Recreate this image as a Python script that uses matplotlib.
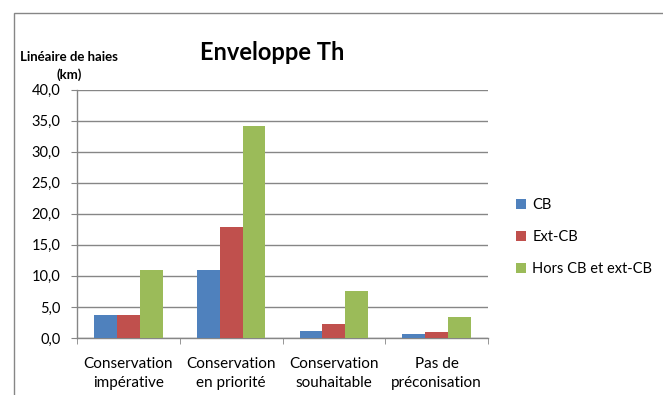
import numpy as np
import matplotlib
matplotlib.use("Agg")
import matplotlib.pyplot as plt
from matplotlib.patches import Rectangle

plt.rcParams['font.family'] = ['Lato', 'DejaVu Sans']

# data
categories = ["Conservation\nimpérative", "Conservation\nen priorité",
              "Conservation\nsouhaitable", "Pas de\npréconisation"]
series = ["CB", "Ext-CB", "Hors CB et ext-CB"]
cb = [3.7, 11.0, 1.1, 0.7]
ext_cb = [3.7, 17.8, 2.2, 0.9]
hors = [11.0, 34.1, 7.6, 3.3]
colors = ["#4F81BD", "#C0504D", "#9BBB59"]

fig = plt.figure(figsize=(6.63, 3.95), dpi=100)
fig.patches.append(Rectangle((14/663, -0.1), 1.2, 1 - 13/395 + 0.1,
                             transform=fig.transFigure, fill=False,
                             edgecolor="#868686", linewidth=1.0))

ax = fig.add_axes([77/663, 1 - 338/395, 411/663, 248.5/395])
x = np.arange(len(categories))
w = 1 / 4.5
for i, (vals, name) in enumerate(zip([cb, ext_cb, hors], series)):
    ax.bar(x + (i - 1) * w, vals, width=w, color=colors[i], label=name,
           zorder=3)

ax.set_xlim(-0.5, len(categories) - 0.5)
ax.set_ylim(0, 40)
ax.set_yticks(np.arange(0, 41, 5))
ax.set_yticklabels([f"{v:.1f}".replace(".", ",") for v in np.arange(0, 41, 5)],
                   fontsize=10.5)
ax.set_xticks(x)
ax.set_xticklabels(categories, fontsize=11, linespacing=1.45)
ax.set_xticks(np.arange(-0.5, len(categories)), minor=True)
ax.tick_params(axis='x', which='major', length=0, pad=14)
ax.tick_params(axis='x', which='minor', length=4, color="#868686")
ax.tick_params(axis='y', length=4, color="#868686", pad=8)
ax.grid(axis='y', color="#868686", linewidth=1.0, zorder=0)
for s in ["top", "right"]:
    ax.spines[s].set_visible(False)
for s in ["left", "bottom"]:
    ax.spines[s].set_color("#868686")
    ax.spines[s].set_linewidth(1.0)

fig.text(272/663, 1 - 52/395, "Enveloppe Th", fontsize=17, fontweight='bold',
         ha='center', va='center')
fig.text(69/663, 1 - 66/395, "Linéaire de haies\n(km)", fontsize=9.5,
         fontweight='bold', ha='center', va='center', linespacing=1.5)

ax.legend(loc='center left', bbox_to_anchor=(503/663, 1 - 237/395),
          bbox_transform=fig.transFigure, frameon=False, fontsize=10.5,
          handlelength=0.7, handleheight=0.7, handletextpad=0.4,
          labelspacing=1.25)

fig.savefig("out.png", dpi=100)
